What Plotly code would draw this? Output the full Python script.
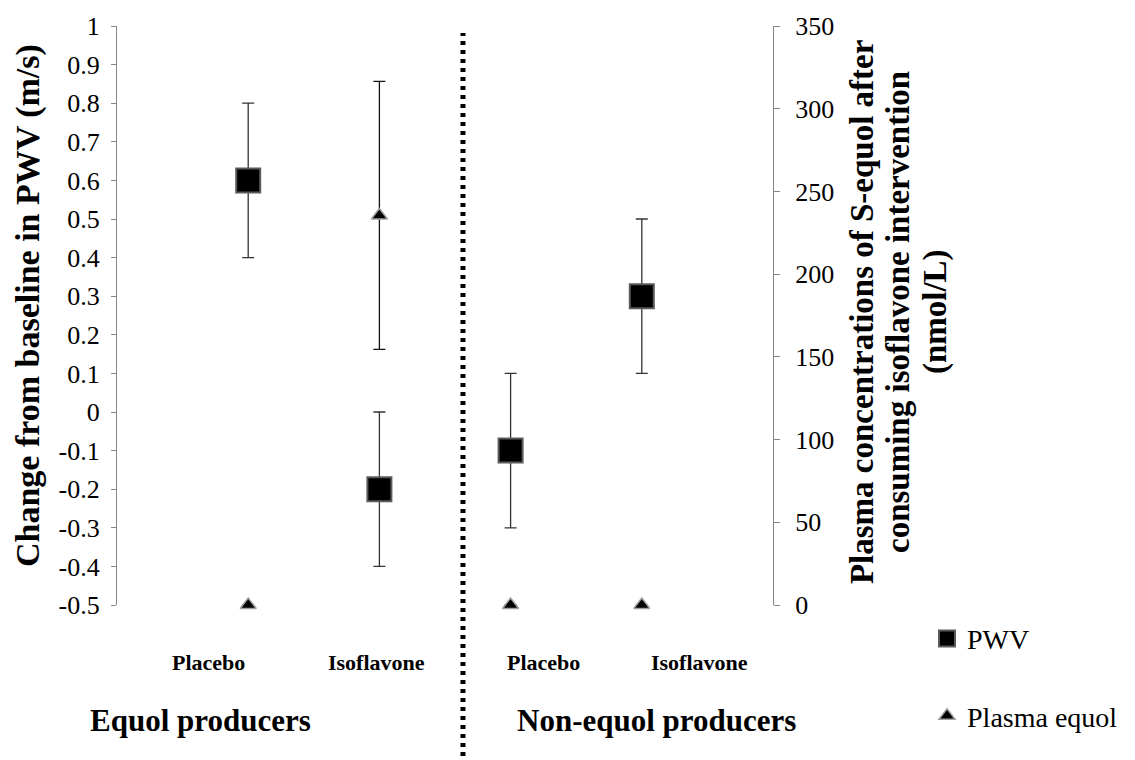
import plotly.graph_objects as go

# ---- data ----
categories = ["Placebo", "Isoflavone", "Placebo", "Isoflavone"]
groups = ["Equol producers", "Non-equol producers"]
pwv = [0.6, -0.2, -0.1, 0.3]
pwv_err = [0.2, 0.2, 0.2, 0.2]
equol = [0, 235.5, 0, 0]
equol_err = [None, 81, None, None]
left_tickvals = [1, 0.9, 0.8, 0.7, 0.6, 0.5, 0.4, 0.3, 0.2, 0.1, 0, -0.1, -0.2, -0.3, -0.4, -0.5]
left_ticktext = ["1", "0.9", "0.8", "0.7", "0.6", "0.5", "0.4", "0.3", "0.2", "0.1", "0",
                 "-0.1", "-0.2", "-0.3", "-0.4", "-0.5"]
right_tickvals = [0, 50, 100, 150, 200, 250, 300, 350]
right_ticktext = ["0", "50", "100", "150", "200", "250", "300", "350"]
left_title = "Change from baseline in PWV (m/s)"
right_title_lines = ["Plasma concentrations of S-equol after",
                     "consuming isoflavone intervention",
                     "(nmol/L)"]

# ---- layout helpers ----
x_pos = [i + 1 for i in range(len(categories))]
cat_label_x = [0.70, 1.98, 3.247, 4.443]    # label positions (data x)
group_label_x = [0.128, 0.823]              # paper x
divider_x = 2.637
FONT = '"Liberation Serif", "Times New Roman", Tinos, serif'
GRAY = "#868686"

fig = go.Figure()
fig.add_trace(go.Scatter(
    x=x_pos, y=pwv, name="PWV", mode="markers", cliponaxis=False,
    legendgroup="a",
    marker=dict(symbol="square", size=24, color="black",
                line=dict(color="#5a5a5a", width=2)),
    error_y=dict(type="data", array=pwv_err, visible=True,
                 color="#333333", thickness=1.3, width=6),
))
fig.add_trace(go.Scatter(
    x=x_pos, y=equol, name="Plasma equol", mode="markers", cliponaxis=False,
    yaxis="y2", legendgroup="b",
    marker=dict(symbol="triangle-up", size=14, color="black",
                line=dict(color="#a0a0a0", width=1.5)),
    error_y=dict(type="data", array=equol_err, visible=True,
                 color="#111111", thickness=1.3, width=6),
))

annotations = []
for lbl, xx in zip(categories, cat_label_x):
    annotations.append(dict(text=lbl, x=xx, xref="x", y=-0.0995, yref="paper",
                            showarrow=False, xanchor="center", yanchor="middle",
                            font=dict(family=FONT, size=22, color="black", weight="bold")))
for lbl, xx in zip(groups, group_label_x):
    annotations.append(dict(text=lbl, x=xx, xref="paper", y=-0.199, yref="paper",
                            showarrow=False, xanchor="center", yanchor="middle",
                            font=dict(family=FONT, size=31, color="black", weight="bold")))
annotations.append(dict(text=left_title, x=-0.1357, xref="paper", y=0.518, yref="paper",
                        textangle=-90, showarrow=False, xanchor="center", yanchor="middle",
                        font=dict(family=FONT, size=34, color="black", weight="bold")))
for line, xx in zip(right_title_lines, [1.1357, 1.1905, 1.247]):
    annotations.append(dict(text=line, x=xx, xref="paper", y=0.506, yref="paper",
                            textangle=-90, showarrow=False, xanchor="center", yanchor="middle",
                            font=dict(family=FONT, size=33, color="black", weight="bold")))

fig.update_layout(
    width=1135, height=760,
    margin=dict(l=117, r=362, t=22, b=155),
    paper_bgcolor="white", plot_bgcolor="white",
    font=dict(family=FONT, color="black"),
    xaxis=dict(range=[0, 5], visible=False, fixedrange=True),
    yaxis=dict(range=[-0.5, 1], tickvals=left_tickvals, ticktext=left_ticktext,
               showline=True, linecolor=GRAY, linewidth=1.3, ticks="outside",
               tickcolor=GRAY, ticklen=5, tickwidth=1.3, showgrid=False, zeroline=False,
               tickfont=dict(family=FONT, size=26, color="black"), ticklabelstandoff=6),
    yaxis2=dict(range=[0, 350], tickvals=right_tickvals, ticktext=right_ticktext,
                overlaying="y", side="right", anchor="x",
                showline=True, linecolor=GRAY, linewidth=1.3, ticks="outside",
                tickcolor=GRAY, ticklen=6, tickwidth=1.3, showgrid=False, zeroline=False,
                tickfont=dict(family=FONT, size=26, color="black"), ticklabelstandoff=10),
    legend=dict(x=1.2348, y=-0.015, xanchor="left", yanchor="top",
                font=dict(family=FONT, size=28, color="black"),
                traceorder="grouped", tracegroupgap=38, bgcolor="rgba(0,0,0,0)"),
    annotations=annotations,
    shapes=[dict(type="line", xref="x", yref="paper", x0=divider_x, x1=divider_x,
                 y0=-0.261, y1=0.988, line=dict(color="black", width=5, dash="4px,5px"))],
)

fig.write_html("out.html")
